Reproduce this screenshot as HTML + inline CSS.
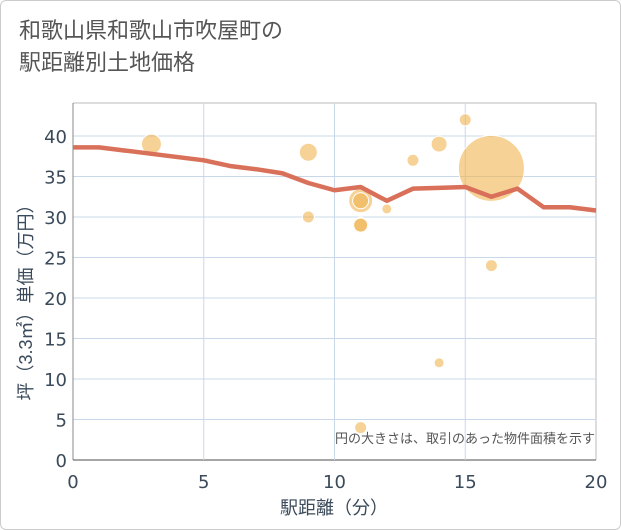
<!DOCTYPE html>
<html><head><meta charset="utf-8"><style>
body{margin:0;background:#fff;}
#c{position:relative;width:619px;height:528px;border:1px solid #ccc;border-radius:6px;overflow:hidden;font-family:"Liberation Sans","Noto Sans CJK JP",sans-serif;}
.t{position:absolute;left:18px;color:#555;font-size:22px;line-height:32px;}
</style></head><body>
<div id="c">
<div class="t" style="top:14px">和歌山県和歌山市吹屋町の<br>駅距離別土地価格</div>
<svg id="s" width="621" height="530" style="position:absolute;left:-1px;top:-1px"></svg>
</div>
<script>
const lineX=[0,1,2,3,4,5,6,7,8,9,10,11,12,13,14,15,16,17,18,19,20];
const lineY=[38.6,38.6,38.2,37.8,37.4,37.0,36.3,35.9,35.4,34.2,33.3,33.7,32.0,33.5,33.6,33.7,32.5,33.5,31.2,31.2,30.8];
const bubX=[3,9,9,11,11,11,11,12,13,14,15,16,16,14,11];
const bubY=[39,38,30,32,32,29,29,31,37,39,42,36,24,12,4];
const bubR=[10,9,6,12,8,8,7,5,6,8,6,33,6,5,6];
const xTicks=[0,5,10,15,20];
const yTicks=[0,5,10,15,20,25,30,35,40];
const NS="http://www.w3.org/2000/svg";
const s=document.getElementById('s');
const X0=73,X1=596,Y0=460,Y40=136;
const xs=v=>X0+(X1-X0)*v/20;
const ys=v=>Y0-(Y0-Y40)*v/40;
const TF='"DejaVu Sans","Noto Sans CJK JP",sans-serif';
function el(t,a,p){const e=document.createElementNS(NS,t);for(const k in a)e.setAttribute(k,a[k]);(p||s).appendChild(e);return e;}
el('line',{x1:X0,y1:103,x2:X1,y2:103,stroke:'#bbb','stroke-width':1});
el('line',{x1:X1,y1:103,x2:X1,y2:Y0,stroke:'#bbb','stroke-width':1});
for(const v of yTicks){
 const g=el('line',{x1:X0,x2:X1,y1:ys(v),y2:ys(v),stroke:v==0?'#888':'#c8d8e8','stroke-width':v==0?1.5:1});
 
 const t=el('text',{x:X0-6,y:ys(v)+7,'text-anchor':'end','font-size':18,fill:'#3a4a5a','font-family':TF});t.textContent=v;
 
}
for(const v of xTicks){
 if(v>0&&v<20){const g=el('line',{x1:xs(v),x2:xs(v),y1:103,y2:Y0,stroke:'#c8d8e8','stroke-width':1});
 }
 const t=el('text',{x:xs(v),y:488,'text-anchor':'middle','font-size':18,fill:'#3a4a5a','font-family':TF});t.textContent=v;
 
}
el('line',{x1:X0,y1:103,x2:X0,y2:Y0,stroke:'#888','stroke-width':1});
for(let i=0;i<bubX.length;i++){
 const c=el('circle',{cx:xs(bubX[i]),cy:ys(bubY[i]),r:bubR[i],fill:'rgba(240,180,80,0.6)',stroke:'#fff','stroke-width':1});
 
}
const p=el('polyline',{points:lineX.map((x,i)=>xs(x)+','+ys(lineY[i])).join(' '),fill:'none',stroke:'#d9705a','stroke-width':4.5,'stroke-linejoin':'round'});

const n=el('text',{x:595,y:443,'text-anchor':'end','font-size':13,fill:'#555'});n.textContent='円の大きさは、取引のあった物件面積を示す';

const xt=el('text',{x:334,y:514,'text-anchor':'middle','font-size':18,fill:'#3a4a5a'});xt.textContent='駅距離（分）';

const yt=el('text',{x:0,y:0,'text-anchor':'middle','font-size':18,fill:'#3a4a5a',transform:'translate(32,298) rotate(-90)'});yt.textContent='坪（3.3㎡）単価（万円）';

</script>
</body></html>
